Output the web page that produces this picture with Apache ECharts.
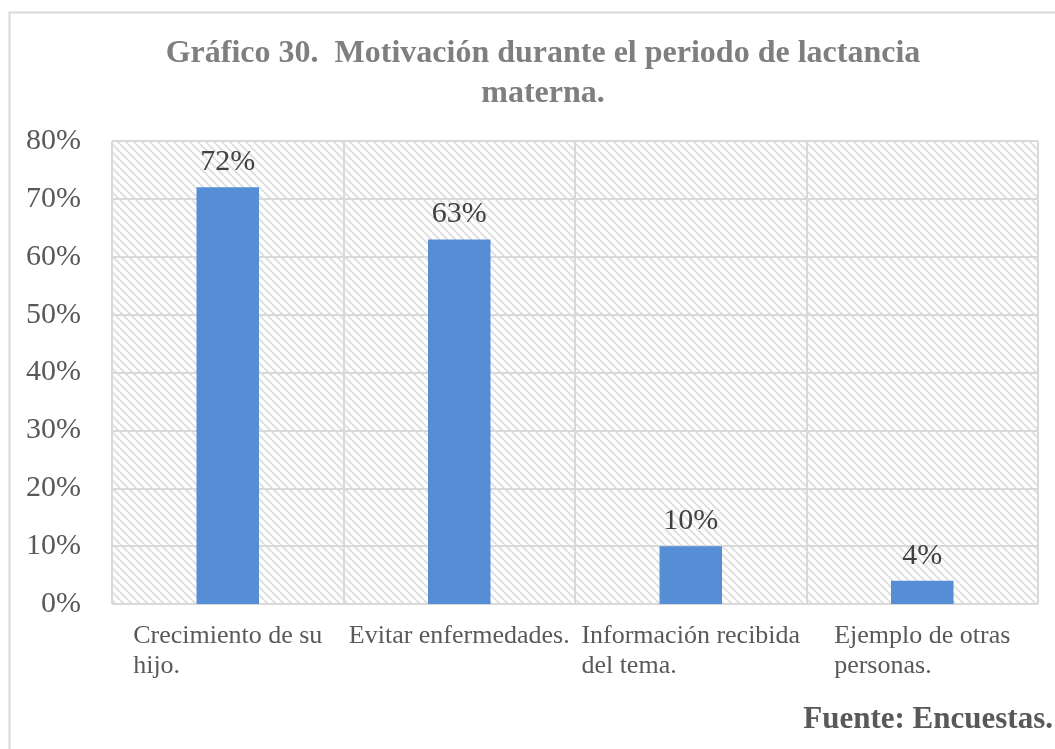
<!DOCTYPE html>
<html>
<head>
<meta charset="utf-8">
<script src="https://cdn.jsdelivr.net/npm/echarts@6/dist/echarts.min.js"></script>
<style>
  html, body { margin: 0; padding: 0; background: #fff; }
  #chart { width: 1055px; height: 749px; }
</style>
</head>
<body>
<div id="chart"></div>
<script>
const categories = [
  'Crecimiento de su\nhijo.',
  'Evitar enfermedades.',
  'Información recibida\ndel tema.',
  'Ejemplo de otras\npersonas.'
]
const values = [0.72, 0.63, 0.10, 0.04]
const titleText = 'Gráfico 30.  Motivación durante el periodo de lactancia\nmaterna.'
const sourceText = 'Fuente: Encuestas.'

// trama diagonal del fondo del área de trazado
function makeHatch() {
  const c = document.createElement('canvas')
  c.width = 8
  c.height = 8
  const ctx = c.getContext('2d')
  ctx.fillStyle = '#ffffff'
  ctx.fillRect(0, 0, 8, 8)
  ctx.strokeStyle = '#e0e0e0'
  ctx.lineWidth = 2
  ;[-8, 0, 8].forEach(off => {
    ctx.beginPath()
    ctx.moveTo(off, 0)
    ctx.lineTo(off + 8, 8)
    ctx.stroke()
  })
  return c
}

const serif = '"Liberation Serif", "Times New Roman", serif'
const myChart = echarts.init(document.getElementById('chart'))
const option = {
  backgroundColor: '#ffffff',
  animation: false,
  title: {
    text: titleText,
    left: 538,
    top: 29,
    textAlign: 'center',
    textStyle: {
      fontFamily: serif,
      fontWeight: 'bold',
      fontSize: 32,
      lineHeight: 40,
      color: '#7f7f7f'
    }
  },
  graphic: [
    {
      type: 'rect',
      left: 7,
      top: 10,
      shape: { width: 1070, height: 760 },
      style: { fill: null, stroke: '#d9d9d9', lineWidth: 2 },
      silent: true
    },
    {
      type: 'text',
      right: 2,
      top: 704,
      style: {
        text: sourceText,
        font: 'bold 31px ' + serif,
        fill: '#595959'
      }
    }
  ],
  grid: {
    left: 112,
    right: 17,
    top: 141,
    bottom: 145,
    show: true,
    borderWidth: 0,
    backgroundColor: { image: makeHatch(), repeat: 'repeat' }
  },
  xAxis: {
    type: 'category',
    data: categories,
    axisLine: { show: false },
    axisTick: { show: false },
    splitLine: {
      show: true,
      lineStyle: { color: '#d9d9d9', width: 2 }
    },
    axisLabel: {
      interval: 0,
      margin: 17,
      formatter: function(v) {
        return '{a|' + v + '}'
      },
      rich: {
        a: {
          align: 'left',
          fontFamily: serif,
          fontSize: 26,
          lineHeight: 30,
          color: '#595959'
        }
      }
    }
  },
  yAxis: {
    type: 'value',
    min: 0,
    max: 0.8,
    interval: 0.1,
    axisLine: { show: false },
    axisTick: { show: false },
    splitLine: {
      lineStyle: { color: '#d9d9d9', width: 2 }
    },
    axisLabel: {
      margin: 31,
      fontFamily: serif,
      fontSize: 30,
      color: '#595959',
      formatter: function(v) {
        return Math.round(v * 100) + '%'
      }
    }
  },
  series: [
    {
      type: 'bar',
      data: values,
      barWidth: '27%',
      itemStyle: { color: '#558ed5' },
      label: {
        show: true,
        position: 'top',
        distance: 10,
        fontFamily: serif,
        fontSize: 30,
        color: '#404040',
        formatter: function(p) {
          return Math.round(p.value * 100) + '%'
        }
      }
    }
  ]
}
myChart.setOption(option)
window.addEventListener('resize', () => {
  myChart.resize()
})
</script>
</body>
</html>
